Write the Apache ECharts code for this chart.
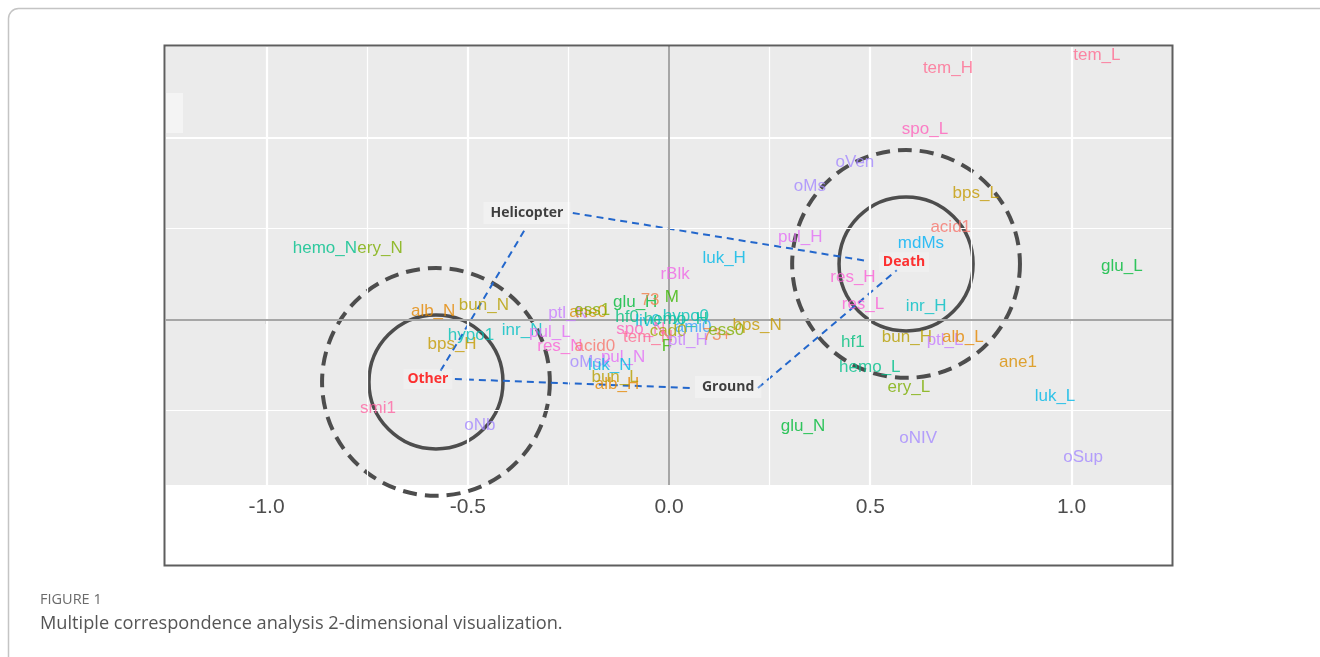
<!DOCTYPE html>
<html><head><meta charset="utf-8">
<script src="https://cdn.jsdelivr.net/npm/echarts@6/dist/echarts.min.js"></script>
<style>html,body{margin:0;padding:0;background:#fff}#c{width:1320px;height:657px}</style>
</head><body><div id="c"></div>
<script>
// ---- data: category labels (MCA coordinates, dim1 = x, dim2 = y) ----
const labels = ['tem_L','tem_H','spo_L','oVen','oMs','bps_L','acid1','pul_H','mdMs','luk_H','glu_L',
 'hemo_N','ery_N','rBlk','res_H','res_L','inr_H','alb_N','bun_N','ptl_N','ane0','ess1','alb_H',
 'glu_H','73','M','hf0','inr_N','pul_L','hypo1','bps_H','res_N','acid0','oMsk','pul_N','luk_N','bun_L',
 'liv0','hemo_H','hypo0','ami0','spo_N','cad0','tem_N','F','ptl_H','73+','ess0','bps_N',
 'hf1','bun_H','ptl_L','alb_L','hemo_L','ane1','ery_L','luk_L','glu_N','oNIV','oSup','smi1','oNb'];
const xs = [1.063,0.693,0.636,0.462,0.350,0.762,0.700,0.326,0.626,0.137,1.125,
 -0.855,-0.718,0.015,0.457,0.482,0.639,-0.586,-0.460,-0.251,-0.201,-0.191,-0.129,
 -0.084,-0.047,0.007,-0.104,-0.365,-0.296,-0.492,-0.539,-0.271,-0.184,-0.196,-0.114,-0.147,-0.134,
 -0.052,0.017,0.042,0.060,-0.070,-0.002,-0.052,-0.005,0.047,0.119,0.142,0.219,
 0.457,0.591,0.686,0.730,0.499,0.867,0.596,0.959,0.333,0.619,1.029,-0.723,-0.470];
const ys = [0.726,0.690,0.522,0.432,0.364,0.347,0.254,0.226,0.209,0.168,0.146,
 0.196,0.196,0.124,0.116,0.042,0.037,0.023,0.039,0.017,0.020,0.025,-0.178,
 0.047,0.053,0.061,0.006,-0.029,-0.035,-0.043,-0.070,-0.073,-0.073,-0.117,-0.104,-0.126,-0.158,
 -0.005,0.000,0.007,-0.021,-0.027,-0.032,-0.049,-0.073,-0.057,-0.043,-0.030,-0.016,
 -0.062,-0.049,-0.057,-0.049,-0.131,-0.117,-0.186,-0.211,-0.293,-0.326,-0.378,-0.244,-0.290];
const groups = ['tem','tem','spo','out','out','bps','acid','pul','mdMs','luk','glu',
 'hemo','ery','rBlk','res','res','inr','alb','bun','ptl','ane','ess','alb',
 'glu','age','sex','hf','inr','pul','hypo','bps','res','acid','out','pul','luk','bun',
 'liv','hemo','hypo','ami','spo','cad','tem','sex','ptl','age','ess','bps',
 'hf','bun','ptl','alb','hemo','ane','ery','luk','glu','out','out','smi','out'];
const palette = {tem:'#FF6C91',spo:'#FF62BC',res:'#FB61D7',rBlk:'#F066E6',pul:'#E36EF6',ptl:'#C77CFF',
 out:'#A58AFF',mdMs:'#00B0F6',ami:'#35A2FF',luk:'#00B8E7',inr:'#00BFC4',hypo:'#00C0B5',liv:'#00BCD8',
 hemo:'#00C08B',hf:'#00BF7D',glu:'#00BA38',sex:'#39B600',ery:'#7CAE00',ess:'#80AF00',cad:'#A3A500',
 bun:'#B79F00',bps:'#C49A00',alb:'#E58700',ane:'#DB8E00',acid:'#F8766D',age:'#F07F48',smi:'#FF67A4'};

// supplementary (transport / outcome) groups
const groupNames = ['Helicopter','Ground','Other','Death'];
const groupX = [-0.353,0.147,-0.599,0.584];
const groupY = [0.292,-0.186,-0.164,0.157];

// cluster circles: centre, radius (x units), dashed?
const circleX = [-0.579,-0.579,0.589,0.589];
const circleY = [-0.172,-0.172,0.152,0.152];
const circleR = [0.1665,0.283,0.1665,0.283];
const circleDashed = [false,true,false,true];

// connector lines
const linkX1 = [-0.360,-0.239,-0.532,0.221];
const linkY1 = [0.243,0.292,-0.164,-0.189];
const linkX2 = [-0.571,0.494,0.060,0.566];
const linkY2 = [-0.148,0.160,-0.189,0.135];

// axis ticks / grid
const xTickLabels = [-1.0,-0.5,0.0,0.5,1.0];
const xMajorGrid = [-1.0,-0.5,0.5,1.0];
const xMinorGrid = [-0.75,-0.25,0.25,0.75];
const yMajorGrid = [0.5];
const yMinorGrid = [0.75,0.25,-0.25];

const chart = echarts.init(document.getElementById('c'), null, {renderer:'canvas'});

const gridLines = [];
xMinorGrid.forEach(v=>gridLines.push({xAxis:v,lineStyle:{color:'#FFFFFF',width:1.2,type:'solid'}}));
yMinorGrid.forEach(v=>gridLines.push({yAxis:v,lineStyle:{color:'#FFFFFF',width:1.2,type:'solid'}}));
xMajorGrid.forEach(v=>gridLines.push({xAxis:v,lineStyle:{color:'#FFFFFF',width:2.2,type:'solid'}}));
yMajorGrid.forEach(v=>gridLines.push({yAxis:v,lineStyle:{color:'#FFFFFF',width:2.2,type:'solid'}}));
gridLines.push({xAxis:0,lineStyle:{color:'#A6A6A6',width:2,type:'solid'}});
gridLines.push({yAxis:0,lineStyle:{color:'#A6A6A6',width:2,type:'solid'}});

const labelData = labels.map((t,i)=>({name:t,value:[xs[i],ys[i]],
  label:{color:palette[groups[i]]}}));

const groupData = groupNames.map((t,i)=>{
  const heavy = (t==='Helicopter'||t==='Ground');
  return {name:t,value:[groupX[i],groupY[i]],
    label:{color: heavy?'#111111':'#FF0000',
      backgroundColor: heavy?'rgba(255,255,255,0.4)':'rgba(255,255,255,0.25)',
      padding: heavy?[4,7]:[3,4]}};
});

const circleData = circleX.map((x,i)=>[x,circleY[i],circleR[i],circleDashed[i]?1:0]);
const linkData = linkX1.map((x,i)=>[x,linkY1[i],linkX2[i],linkY2[i]]);

const SANS = '"Liberation Sans", Arial, sans-serif';

chart.setOption({
  animation:false,
  backgroundColor:'#FFFFFF',
  grid:{left:165.9,top:46,width:1006.2,height:439,show:true,backgroundColor:'#EBEBEB',borderWidth:0,containLabel:false},
  xAxis:{type:'value',min:-1.25,max:1.25,interval:0.25,
    axisLine:{show:false},splitLine:{show:false},
    axisTick:{show:true,customValues:xTickLabels,length:5,lineStyle:{color:'#333333',width:1.2}},
    axisLabel:{show:true,customValues:xTickLabels,margin:12,fontSize:21,color:'#4D4D4D',
      fontFamily:SANS,formatter:v=>Number(v).toFixed(1)}},
  yAxis:{type:'value',min:-0.4552,max:0.7508,
    axisLine:{show:false},splitLine:{show:false},axisTick:{show:false},axisLabel:{show:false}},
  graphic:[
    {type:'rect',z:100,silent:true,shape:{x:8.5,y:8.5,width:1400,height:800,r:10},
     style:{fill:'none',stroke:'#C4C4C4',lineWidth:1.5}},
    {type:'rect',z:90,silent:true,shape:{x:165,y:93,width:18,height:40},style:{fill:'#F4F4F4'}},
    {type:'rect',z:100,silent:true,shape:{x:164.5,y:45.5,width:1008,height:520},
     style:{fill:'none',stroke:'#5E5E5E',lineWidth:2}},
    {type:'text',z:100,silent:true,x:40,y:600,style:{text:'FIGURE 1',font:'14.5px "Open Sans"',fill:'#6B6B6B',textVerticalAlign:'middle'}},
    {type:'text',z:100,silent:true,x:40,y:624,style:{text:'Multiple correspondence analysis 2-dimensional visualization.',font:'18.2px "Open Sans"',fill:'#555555',textVerticalAlign:'middle'}}
  ],
  series:[
    {type:'line',data:[],silent:true,z:1,
     markLine:{silent:true,symbol:['none','none'],label:{show:false},animation:false,data:gridLines}},
    {type:'custom',z:3,silent:true,data:circleData,clip:false,
     renderItem:(params,api)=>{
       const c = api.coord([api.value(0),api.value(1)]);
       const r = api.size([api.value(2),0])[0];
       const dashed = api.value(3)===1;
       return {type:'circle',shape:{cx:c[0],cy:c[1],r:r},
         style:{fill:'none',stroke:'#4D4D4D',lineWidth:dashed?4:3.5,lineDash:dashed?[14,8]:null}};
     }},
    {type:'custom',z:4,silent:true,data:linkData,clip:false,
     renderItem:(params,api)=>{
       const a = api.coord([api.value(0),api.value(1)]);
       const b = api.coord([api.value(2),api.value(3)]);
       return {type:'line',shape:{x1:a[0],y1:a[1],x2:b[0],y2:b[1]},
         style:{stroke:'#2367CC',lineWidth:2,lineDash:[7,5]}};
     }},
    {type:'scatter',z:5,silent:true,symbolSize:0.1,itemStyle:{color:'rgba(0,0,0,0)'},
     data:labelData,
     label:{show:true,position:'inside',formatter:'{b}',fontSize:17,fontFamily:SANS},
     labelLayout:{hideOverlap:false}},
    {type:'scatter',z:6,silent:true,symbolSize:0.1,itemStyle:{color:'rgba(0,0,0,0)'},
     data:groupData,
     label:{show:true,position:'inside',formatter:'{b}',fontSize:14,fontWeight:'bold',fontFamily:'"Open Sans", sans-serif'}}
  ]
});
</script></body></html>
